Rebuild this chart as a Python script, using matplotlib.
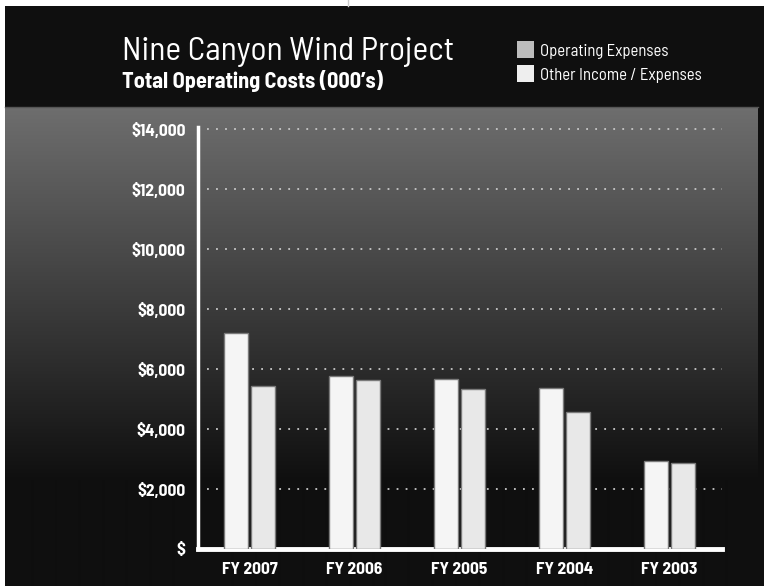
import numpy as np
import matplotlib
matplotlib.use('Agg')
import matplotlib.pyplot as plt
from matplotlib.patches import Rectangle

# data (000's)
years = ['FY 2007', 'FY 2006', 'FY 2005', 'FY 2004', 'FY 2003']
operating = [7200, 5770, 5670, 5370, 2930]
other = [5430, 5630, 5330, 4570, 2870]
yticks = [0, 2000, 4000, 6000, 8000, 10000, 12000, 14000]
ylabels = ['$', '$2,000', '$4,000', '$6,000', '$8,000', '$10,000', '$12,000', '$14,000']

W, H = 764, 586
fam = ['Barlow Semi Condensed', 'DejaVu Sans']

fig = plt.figure(figsize=(W / 100, H / 100), dpi=100, facecolor='white')

# background, drawn in pixel coordinates
bg = fig.add_axes([0, 0, 1, 1])
bg.axis('off')
bg.add_patch(Rectangle((5, 6), W - 5, H - 6, color='#0f0f0f', lw=0, zorder=1))
# grey -> black gradient panel
grad = np.linspace(110, 15, 374)
grad = np.concatenate([grad, np.full(H - 107 - 374, 15)]) / 255.0
img = np.repeat(grad[:, None, None], 3, axis=2)
bg.imshow(img, extent=(5, 758, H, 107), aspect='auto', interpolation='bilinear', zorder=2)
bg.plot([5, 758], [107, 107], color='#555555', lw=1, zorder=3)
bg.plot([348, 348], [0, 6], color='#cccccc', lw=1, zorder=3)
bg.set_xlim(0, W)
bg.set_ylim(H, 0)

# titles
fig.text(122 / W, 1 - 60 / H, 'Nine Canyon Wind Project', color='white', fontsize=24,
         family=fam, va='baseline', ha='left')
fig.text(122 / W, 1 - 88 / H, 'Total Operating Costs (000\u2019s)', color='white', fontsize=16,
         family=fam, fontweight='bold', va='baseline', ha='left')

# legend
bg.add_patch(Rectangle((517, 41), 17, 17, color='#bdbdbd', lw=0, zorder=4))
bg.add_patch(Rectangle((517, 65), 17, 17, color='#eeeeee', lw=0, zorder=4))
fig.text(540 / W, 1 - 56 / H, 'Operating Expenses', color='white', fontsize=12,
         family=fam, va='baseline', ha='left')
fig.text(540 / W, 1 - 80 / H, 'Other Income / Expenses', color='white', fontsize=12,
         family=fam, va='baseline', ha='left')

# main chart
ax = fig.add_axes([198 / W, 1 - 549 / H, (722 - 198) / W, (549 - 127) / H])
ax.patch.set_alpha(0)
x = np.arange(len(years))
w = 0.23
ax.bar(x - 0.125, operating, w, color='#f5f5f5', edgecolor='#7a7a7a', lw=1, zorder=3)
ax.bar(x + 0.125, other, w, color='#e8e8e8', edgecolor='#7a7a7a', lw=1, zorder=3)

ax.set_xlim(-0.49, 4.5)
ax.set_ylim(0, 14070)
ax.set_yticks(yticks)
ax.set_yticklabels(ylabels)
ax.set_xticks(x)
ax.set_xticklabels(years)
for t in ax.get_yticklabels() + ax.get_xticklabels():
    t.set_color('white')
    t.set_fontweight('bold')
    t.set_fontsize(12.5)
    t.set_family(fam)
ax.tick_params(length=0, pad=9)

for v in yticks[1:]:
    ax.axhline(v, color='#c8c8c8', lw=1.3, ls=(0, (1, 4)), zorder=1)

for s in ['top', 'right']:
    ax.spines[s].set_visible(False)
ax.spines['left'].set_color('white')
ax.spines['left'].set_linewidth(2.5)
ax.spines['bottom'].set_color('white')
ax.spines['bottom'].set_linewidth(3.5)

fig.savefig('out.png', dpi=100, facecolor='white')
